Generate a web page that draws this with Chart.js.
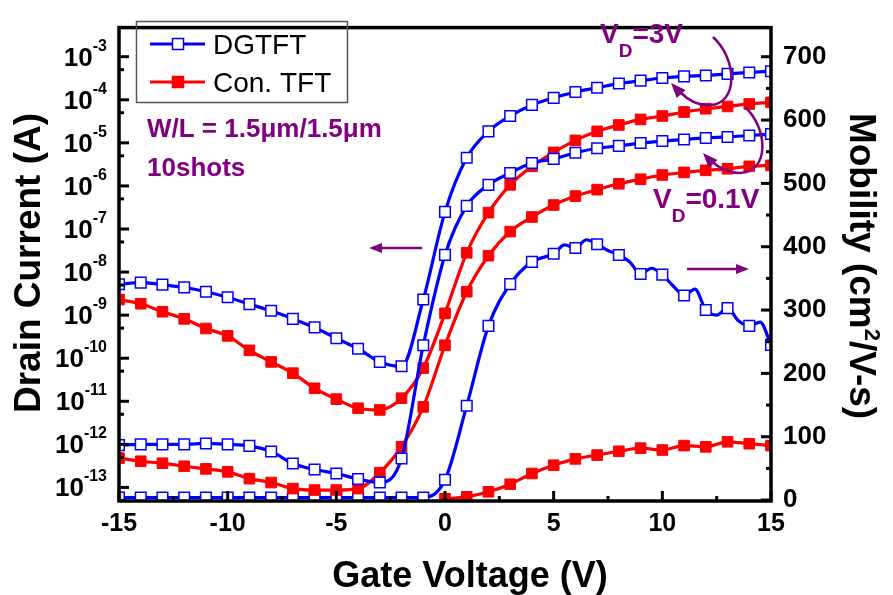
<!DOCTYPE html>
<html>
<head>
<meta charset="utf-8">
<script src="https://cdn.jsdelivr.net/npm/chart.js@4.4.1/dist/chart.umd.min.js"></script>
<style>
html, body { margin: 0; padding: 0; background: #fff; }
</style>
</head>
<body>
<canvas id="tftChart" width="893" height="595"></canvas>
<script>
// gate voltage sweep (V), markers every 1 V
const gateV = [-15,-14,-13,-12,-11,-10,-9,-8,-7,-6,-5,-4,-3,-2,-1,0,1,2,3,4,5,6,7,8,9,10,11,12,13,14,15];

// drain current (A)
const dgId3V = [5.2e-9,5.7e-9,5.1e-9,4.4e-9,3.5e-9,2.6e-9,1.8e-9,1.26e-9,8.2e-10,5.2e-10,2.9e-10,1.66e-10,8.2e-11,6.5e-11,2.3e-9,
    2.5e-7,4.5e-6,1.85e-5,4.2e-5,7.6e-5,1.11e-4,1.52e-4,1.9e-4,2.38e-4,2.78e-4,3.2e-4,3.5e-4,3.67e-4,4.0e-4,4.3e-4,4.6e-4];
const dgId01V = [9.6e-13,1.0e-12,1.0e-12,1.0e-12,1.05e-12,1.0e-12,9.2e-13,6.8e-13,3.6e-13,2.6e-13,2.1e-13,1.57e-13,1.3e-13,4.7e-13,2.0e-10,
    2.5e-8,3.45e-7,1.06e-6,2.0e-6,3.4e-6,4.25e-6,5.9e-6,7.5e-6,8.5e-6,9.9e-6,1.1e-5,1.2e-5,1.3e-5,1.37e-5,1.48e-5,1.6e-5];
const conId3V = [2.3e-9,1.84e-9,1.2e-9,8.2e-10,4.9e-10,3.3e-10,1.52e-10,8.2e-11,4.5e-11,2.0e-11,1.12e-11,6.9e-12,6.3e-12,1.18e-11,5.9e-11,
    1.1e-9,2.8e-8,2.4e-7,1.06e-6,2.85e-6,6.0e-6,1.14e-5,1.85e-5,2.6e-5,3.5e-5,4.2e-5,5.2e-5,6.2e-5,7.0e-5,8.0e-5,8.7e-5];
const conId01V = [4.8e-13,4.05e-13,3.65e-13,3.1e-13,2.7e-13,2.3e-13,1.6e-13,1.3e-13,9.4e-14,8.7e-14,8.7e-14,9.4e-14,2.2e-13,8.8e-13,7.4e-12,
    2.0e-10,3.5e-9,2.4e-8,8.7e-8,1.9e-7,3.6e-7,5.8e-7,8.2e-7,1.12e-6,1.43e-6,1.79e-6,2.06e-6,2.3e-6,2.5e-6,2.85e-6,3.0e-6];

// mobility (cm2/V-s)
const dgMobV = [-15,-14,-13,-12,-11,-10,-9,-8,-7,-6,-5,-4,-3,-2,-1,0,1,2,3,4,5,5.5,6,6.5,7,7.5,8,8.5,9,9.5,10,10.5,11,11.5,12,12.5,13,13.5,14,14.5,15];
const dgMob = [4,4,4,4,4,4,4,4,4,4,4,4,4,4,4,32,149,275,341,376,389,403,398,411,404,394,387,376,357,366,356,338,323,333,300,292,303,283,275,281,245];
const conMobV = [0,1,2,3,4,5,6,7,8,9,10,11,12,13,14,15];
const conMob = [2,5,13,25,42,55,65,71,77,82,79,86,84,92,89,86];

// axis ticks
const xTicks = [-15,-10,-5,0,5,10,15];
const xMinorTicks = [-12.5,-7.5,-2.5,2.5,7.5,12.5];
const idDecades = [-3,-4,-5,-6,-7,-8,-9,-10,-11,-12,-13];
const mobTicks = [0,100,200,300,400,500,600,700];

const FONT = '"Liberation Sans", Arial, sans-serif';
const BLUE = '#0000ff';
const RED = '#ff0000';
const PURPLE = '#800080';

function pts(xs, ys) {
    return xs.map((x, i) => ({ x: x, y: ys[i] }));
}

function blueSet(label, xs, ys, axis) {
    return {
        label: label, data: pts(xs, ys), yAxisID: axis,
        borderColor: BLUE, borderWidth: 3.2,
        pointStyle: 'rect',
        pointRadius: ctx => Number.isInteger(ctx.raw.x) ? 7.5 : 0,
        pointBackgroundColor: '#fff', pointBorderColor: BLUE, pointBorderWidth: 1.5,
        cubicInterpolationMode: 'monotone'
    };
}

function redSet(label, xs, ys, axis) {
    return {
        label: label, data: pts(xs, ys), yAxisID: axis,
        borderColor: RED, borderWidth: 3.2,
        pointStyle: 'rect', pointRadius: 7.5,
        pointBackgroundColor: RED, pointBorderColor: RED, pointBorderWidth: 1,
        cubicInterpolationMode: 'monotone'
    };
}

function arrowHead(ctx, tx, ty, fx, fy, len, half) {
    const a = Math.atan2(ty - fy, tx - fx);
    ctx.beginPath();
    ctx.moveTo(tx, ty);
    ctx.lineTo(tx - len * Math.cos(a) + half * Math.sin(a), ty - len * Math.sin(a) - half * Math.cos(a));
    ctx.lineTo(tx - len * Math.cos(a) - half * Math.sin(a), ty - len * Math.sin(a) + half * Math.cos(a));
    ctx.closePath();
    ctx.fill();
}

const decor = {
    id: 'decor',
    afterDraw(chart) {
        const ctx = chart.ctx;
        const a = chart.chartArea;
        const sx = chart.scales.x, sy = chart.scales.y, sr = chart.scales.y1;
        ctx.save();

        // frame
        ctx.strokeStyle = '#000';
        ctx.lineWidth = 3.5;
        ctx.strokeRect(a.left, a.top, a.right - a.left, a.bottom - a.top);

        // inward ticks
        ctx.lineWidth = 3;
        const line = (x1, y1, x2, y2) => { ctx.beginPath(); ctx.moveTo(x1, y1); ctx.lineTo(x2, y2); ctx.stroke(); };
        idDecades.forEach(e => {
            const y = sy.getPixelForValue(Math.pow(10, e));
            line(a.left, y, a.left + 10, y);
            const ym = sy.getPixelForValue(5 * Math.pow(10, e - 1));
            line(a.left, ym, a.left + 5, ym);
        });
        xTicks.forEach(v => { const x = sx.getPixelForValue(v); line(x, a.bottom, x, a.bottom - 10); });
        xMinorTicks.forEach(v => { const x = sx.getPixelForValue(v); line(x, a.bottom, x, a.bottom - 5); });
        mobTicks.forEach(v => {
            const y = sr.getPixelForValue(v);
            line(a.right, y, a.right - 10, y);
            const ym = sr.getPixelForValue(v + 50);
            if (v + 50 < sr.max) line(a.right, ym, a.right - 5, ym);
        });

        // left tick labels 10^n
        ctx.fillStyle = '#000';
        ctx.textBaseline = 'alphabetic';
        idDecades.forEach(e => {
            const y = sy.getPixelForValue(Math.pow(10, e));
            const exp = String(e);
            ctx.font = 'bold 16px ' + FONT;
            const we = ctx.measureText(exp).width;
            ctx.textAlign = 'left';
            ctx.fillText(exp, 107 - we, y - 6);
            ctx.font = 'bold 26px ' + FONT;
            ctx.textAlign = 'right';
            ctx.fillText('10', 107 - we, y + 9);
        });

        // axis titles
        ctx.font = 'bold 36px ' + FONT;
        ctx.textAlign = 'center';
        ctx.fillText('Gate Voltage (V)', 470, 587);

        ctx.save();
        ctx.translate(40, 263);
        ctx.rotate(-Math.PI / 2);
        ctx.font = 'bold 37px ' + FONT;
        ctx.fillText('Drain Current (A)', 0, 0);
        ctx.restore();

        ctx.save();
        ctx.translate(850, 266);
        ctx.rotate(Math.PI / 2);
        ctx.font = 'bold 37px ' + FONT;
        const p1 = 'Mobility (cm', p3 = '/V-s)';
        const w1 = ctx.measureText(p1).width, w3 = ctx.measureText(p3).width;
        ctx.font = 'bold 22px ' + FONT;
        const w2 = ctx.measureText('2').width;
        let x0 = -(w1 + w2 + w3) / 2;
        ctx.textAlign = 'left';
        ctx.font = 'bold 37px ' + FONT;
        ctx.fillText(p1, x0, 0);
        ctx.font = 'bold 22px ' + FONT;
        ctx.fillText('2', x0 + w1, -15);
        ctx.font = 'bold 37px ' + FONT;
        ctx.fillText(p3, x0 + w1 + w2, 0);
        ctx.restore();

        // legend
        ctx.strokeStyle = '#555';
        ctx.lineWidth = 1.5;
        ctx.strokeRect(136.5, 21.5, 211, 81);
        const legendRow = (y, color, fill, text) => {
            ctx.strokeStyle = color;
            ctx.lineWidth = 3.2;
            line(150, y, 205, y);
            ctx.fillStyle = fill;
            ctx.fillRect(172.5, y - 5.5, 11, 11);
            ctx.lineWidth = 1.5;
            ctx.strokeRect(172.5, y - 5.5, 11, 11);
            ctx.fillStyle = '#000';
            ctx.font = '28px ' + FONT;
            ctx.textAlign = 'left';
            ctx.fillText(text, 213, y + 10);
        };
        legendRow(44, BLUE, '#fff', 'DGTFT');
        legendRow(82, RED, RED, 'Con. TFT');

        // purple notes
        ctx.fillStyle = PURPLE;
        ctx.textAlign = 'left';
        ctx.font = 'bold 26px ' + FONT;
        ctx.fillText('W/L = 1.5\u03bcm/1.5\u03bcm', 147, 137);
        ctx.fillText('10shots', 147, 176);

        const vd = (x, y, rest) => {
            ctx.font = 'bold 28px ' + FONT;
            ctx.fillText('V', x, y);
            const wv = ctx.measureText('V').width;
            ctx.font = 'bold 19px ' + FONT;
            ctx.fillText('D', x + wv, y + 14);
            const wd = ctx.measureText('D').width;
            ctx.font = 'bold 28px ' + FONT;
            ctx.fillText(rest, x + wv + wd, y);
        };
        vd(600, 43, '=3V');
        vd(653, 208, '=0.1V');

        // arrows
        ctx.strokeStyle = PURPLE;
        ctx.lineWidth = 2.5;
        line(422, 248, 378, 248);
        arrowHead(ctx, 369, 248, 422, 248, 13, 5);
        line(687, 269, 740, 269);
        arrowHead(ctx, 749, 269, 687, 269, 13, 5);

        ctx.beginPath();
        ctx.moveTo(713, 37);
        ctx.bezierCurveTo(738, 60, 738, 104, 710, 105);
        ctx.bezierCurveTo(697, 106, 687, 99, 680, 92);
        ctx.stroke();
        arrowHead(ctx, 671, 83, 683, 96, 15, 6);

        ctx.beginPath();
        ctx.moveTo(745, 107);
        ctx.bezierCurveTo(768, 128, 770, 172, 740, 173);
        ctx.bezierCurveTo(728, 173, 718, 167, 711, 161);
        ctx.stroke();
        arrowHead(ctx, 703, 153, 714, 165, 15, 6);

        ctx.restore();
    }
};

new Chart(document.getElementById('tftChart').getContext('2d'), {
    type: 'line',
    data: {
        datasets: [
            blueSet('DGTFT VD=3V', gateV, dgId3V, 'y'),
            blueSet('DGTFT VD=0.1V', gateV, dgId01V, 'y'),
            redSet('Con. TFT VD=3V', gateV, conId3V, 'y'),
            redSet('Con. TFT VD=0.1V', gateV, conId01V, 'y'),
            blueSet('DGTFT mobility', dgMobV, dgMob, 'y1'),
            redSet('Con. TFT mobility', conMobV, conMob, 'y1')
        ]
    },
    options: {
        responsive: false,
        animation: false,
        layout: { padding: { top: 13, left: 0, right: 0, bottom: 0 } },
        plugins: { legend: { display: false }, tooltip: { enabled: false } },
        scales: {
            x: {
                type: 'linear', position: 'bottom', min: -15, max: 15,
                afterBuildTicks: s => { s.ticks = xTicks.map(v => ({ value: v })); },
                afterFit: s => { s.height = 94; },
                grid: { display: false, drawTicks: false },
                border: { display: false },
                ticks: {
                    padding: 8, color: '#000',
                    font: { family: FONT, size: 25, weight: 'bold' },
                    callback: v => String(v)
                }
            },
            y: {
                type: 'logarithmic', position: 'left', min: 4.84e-14, max: 4.74e-3,
                afterFit: s => { s.width = 119; },
                grid: { display: false, drawTicks: false },
                border: { display: false },
                ticks: { display: false }
            },
            y1: {
                type: 'linear', position: 'right', min: -1.5, max: 746,
                afterBuildTicks: s => { s.ticks = mobTicks.map(v => ({ value: v })); },
                afterFit: s => { s.width = 122; },
                grid: { display: false, drawTicks: false },
                border: { display: false },
                ticks: {
                    padding: 12, color: '#000',
                    font: { family: FONT, size: 26, weight: 'bold' }
                }
            }
        }
    },
    plugins: [decor]
});
</script>
</body>
</html>
